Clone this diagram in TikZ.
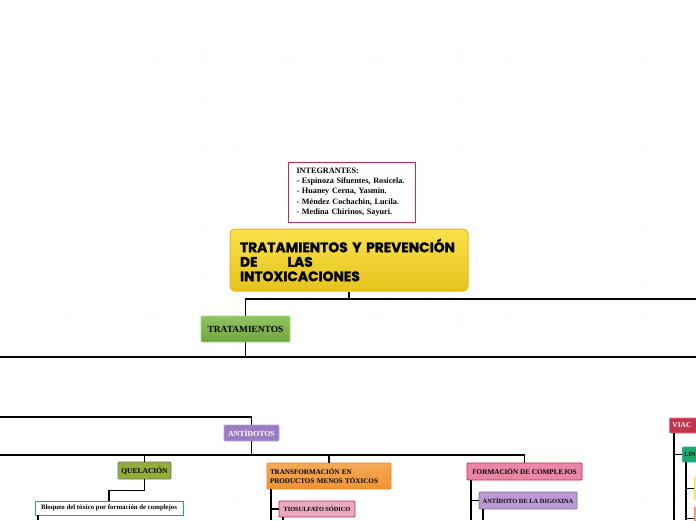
\documentclass[tikz,border=0pt]{standalone}
\usepackage{fontspec}
\setmainfont{Liberation Serif}
\newfontfamily\titlefont[BoldFeatures={FakeBold=1.5}]{Poppins}
\usetikzlibrary{patterns.meta}
\definecolor{memred}{HTML}{C22F4C}
\definecolor{titletop}{HTML}{F9E24C}
\definecolor{titlebot}{HTML}{E6C21E}
\definecolor{titleline}{HTML}{F0B400}
\definecolor{treatfill}{HTML}{7DB847}
\definecolor{treatline}{HTML}{A8D97C}
\definecolor{antifill}{HTML}{9A7CC2}
\definecolor{antiline}{HTML}{BBA3DA}
\definecolor{quelfill}{HTML}{93AE38}
\definecolor{blockline}{HTML}{1DA3A3}
\definecolor{transffill}{HTML}{F09430}
\definecolor{transfline}{HTML}{E88620}
\definecolor{thiofill}{HTML}{EBA9C0}
\definecolor{complexfill}{HTML}{EC86A6}
\definecolor{digoxfill}{HTML}{B99BD1}
\definecolor{digoxline}{HTML}{8A6AA6}
\definecolor{viacfill}{HTML}{C4344F}
\definecolor{viacline}{HTML}{E27584}
\definecolor{linfill}{HTML}{1FA86E}
\definecolor{linline}{HTML}{22B3AA}
\definecolor{yfill}{HTML}{F8EE7A}
\definecolor{sfill}{HTML}{F5A48B}

\begin{document}
\begin{tikzpicture}[x=1pt, y=-1pt,
    topic/.style={draw, line width=0.8pt, inner sep=1pt, align=center, rounded corners=1pt},
    link/.style={line width=1.5pt},
    sublink/.style={line width=1.2pt},
]
\clip (0,0) rectangle (696,520);
\fill[white] (0,0) rectangle (696,520);
\fill[pattern={Dots[distance=8.3pt, radius=0.35pt]}, pattern color=black!10] (0,0) rectangle (696,520);

\node[draw=memred, line width=0.9pt, fill=white, minimum width=127, minimum height=60, text width=110, align=left, font=\bfseries\fontsize{8.2}{10.3}\selectfont] (members) at (351.5,192) {INTEGRANTES:\\- Espinoza Sifuentes, Rosicela.\\- Huaney Cerna, Yasmin.\\- Méndez Cochachin, Lucila.\\- Medina Chirinos, Sayuri.};
\node[draw=titleline, line width=1pt, rounded corners=5pt, top color=titletop, bottom color=titlebot, minimum width=238, minimum height=62, text width=218, inner xsep=10, align=left, font=\titlefont\bfseries\fontsize{13.8}{14.5}\selectfont] (title) at (349,260) {TRATAMIENTOS Y PREVENCIÓN\\DE\hspace{30pt}LAS\\INTOXICACIONES};

\node[topic, draw=treatline, top color=treatfill!85!white, bottom color=treatfill!90!black, minimum width=89, minimum height=26, font=\bfseries\fontsize{9.4}{10}\selectfont] (treat) at (245.5,329) {TRATAMIENTOS};
\node[topic, draw=antiline, fill=antifill, text=white, minimum width=55, minimum height=16, font=\bfseries\fontsize{7.8}{8}\selectfont] (antid) at (251.5,433) {ANTÍDOTOS};

\node[topic, draw=black!55, fill=quelfill, minimum width=53, minimum height=17, font=\bfseries\fontsize{7.5}{8}\selectfont] (quel) at (144.5,470.5) {QUELACIÓN};
\node[draw=blockline, line width=0.9pt, fill=white, minimum width=148, minimum height=14, inner sep=1pt, font=\bfseries\fontsize{6.8}{7}\selectfont] (block) at (109,508) {Bloqueo del tóxico por formación de complejos};

\node[topic, draw=transfline, top color=transffill!80!white, bottom color=transffill, minimum width=124, minimum height=26, text width=118, align=left, font=\bfseries\fontsize{7.1}{9.5}\selectfont] (transf) at (329,476) {TRANSFORMACIÓN EN\\PRODUCTOS MENOS TÓXICOS};
\node[topic, draw=memred, fill=thiofill, minimum width=76, minimum height=16, font=\bfseries\fontsize{6.3}{7}\selectfont] (thio) at (317,509) {TIOSULFATO SÓDICO};

\node[topic, draw=memred, fill=complexfill, minimum width=115, minimum height=17, font=\bfseries\fontsize{7.2}{8}\selectfont] (complex) at (524.5,471.5) {FORMACIÓN DE COMPLEJOS};
\node[topic, draw=digoxline, fill=digoxfill, text=black!80!violet, minimum width=98, minimum height=17, font=\bfseries\fontsize{6.4}{7}\selectfont] (digox) at (528,500.5) {ANTÍDOTO DE LA DIGOXINA};

\node[topic, draw=viacline, fill=viacfill, text=white, anchor=west, minimum width=60, minimum height=15, text width=54, align=left, font=\bfseries\fontsize{7.5}{8}\selectfont] (viac) at (669,425.5) {VIAC};
\node[topic, draw=linline, fill=linfill, anchor=west, minimum width=40, minimum height=15, text width=36, align=left, font=\bfseries\fontsize{6.3}{7}\selectfont] (lin) at (682,454.5) {LIN};
\node[topic, draw=yfill!80!orange, fill=yfill, anchor=west, minimum width=40, minimum height=23] (ynode) at (694,488.5) {};
\node[topic, draw=sfill!80!red, fill=sfill, anchor=west, minimum width=40, minimum height=23] (snode) at (694,518.5) {};

\coordinate (r1) at (696,299);
\draw[link] (title.south) -- (title.south |- r1);
\draw[link] (treat.north) |- (r1);

\coordinate (l2) at (0,357);
\coordinate (r2) at (696,357);
\draw[link] (treat.south) -- (treat.south |- l2);
\draw[link] (l2) -- (r2);

\coordinate (l3) at (0,417);
\draw[sublink] (l3) -| (antid.north);

\coordinate (l4) at (0,455);
\draw[sublink] (l4) -| (complex.north);
\draw[sublink] (antid.south) -- (antid.south |- l4);
\draw[sublink] (quel.north) -- (quel.north |- l4);
\draw[sublink] (transf.north) -- (transf.north |- l4);

\draw[sublink] (quel.south) -- ++(0,11) -| (block.north);
\coordinate (b1) at (38,520);
\draw[sublink] (block.south -| b1) -- (b1);

\coordinate (b2) at (271,520);
\draw[sublink] (transf.south -| b2) -- (b2);
\draw[sublink] (thio.west) -- (thio.west -| b2);
\coordinate (b3) at (283,520);
\draw[sublink] (thio.south -| b3) -- (b3);

\coordinate (b4) at (471,520);
\draw[sublink] (complex.south -| b4) -- (b4);
\draw[sublink] (digox.west) -- (digox.west -| b4);
\coordinate (b5) at (483,520);
\draw[sublink] (digox.south -| b5) -- (b5);

\coordinate (b6) at (674,520);
\draw[link] (viac.south -| b6) -- (b6);
\draw[sublink] (lin.west) -- (lin.west -| b6);
\coordinate (b7) at (686,520);
\draw[sublink] (lin.south -| b7) -- (b7);
\draw[sublink] (ynode.west) -- (ynode.west -| b7);
\draw[sublink] (snode.west) -- (snode.west -| b7);
\end{tikzpicture}
\end{document}
